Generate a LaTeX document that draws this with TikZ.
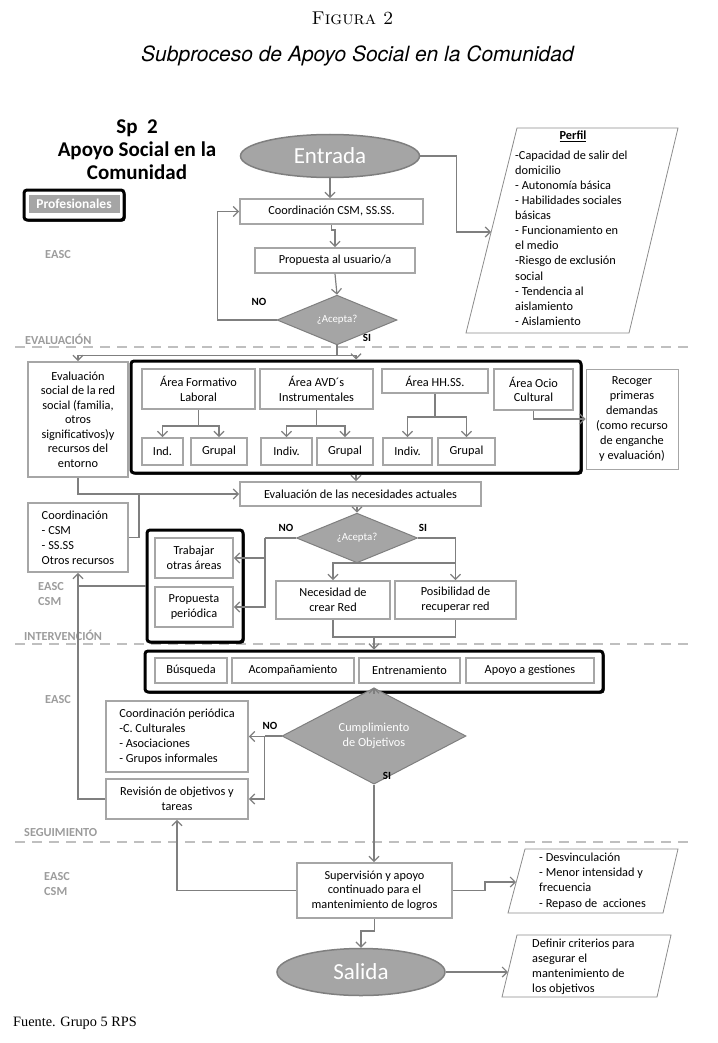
\documentclass[tikz,border=0pt]{standalone}
\usepackage{fontspec}
\newfontfamily\carl{Carlito}
\newfontfamily\heros{TeX Gyre Heros}
\newfontfamily\libser{Liberation Serif}
\usetikzlibrary{arrows.meta,shapes.geometric,shadows,calc}
\definecolor{bordergray}{HTML}{A6A6A6}
\definecolor{linegray}{HTML}{7F7F7F}
\definecolor{fillgray}{HTML}{A5A5A5}
\definecolor{dashgray}{HTML}{BFBFBF}
\definecolor{labelgray}{HTML}{9C9C9C}
\definecolor{paragray}{HTML}{8C8C8C}
\newcommand\boxfnt[1]{\carl\fontsize{12.3}{#1}\selectfont}
\begin{document}
\begin{tikzpicture}[x=1pt,y=-1pt,
  box/.style={draw=bordergray, line width=1.9pt, fill=white, align=center, inner sep=0pt, text=black, font=\boxfnt{14.6}},
  sz/.style 2 args={minimum width=#1pt, minimum height=#2pt},
  cont/.style={draw=black, line width=3pt, rounded corners=3pt, fill=white, inner sep=0pt,
     drop shadow={shadow xshift=1.5pt, shadow yshift=-1.5pt, opacity=1, fill=black}},
  ell/.style={ellipse, draw=linegray, line width=1.5pt, fill=fillgray, text=white, inner sep=0pt, font=\carl\fontsize{23}{26}\selectfont},
  dia/.style={diamond, draw=linegray, line width=1pt, fill=fillgray, text=white, inner sep=0pt, align=center, font=\carl\fontsize{10.8}{12.5}\selectfont},
  conn/.style={draw=linegray, line width=1.2pt, -{Straight Barb[length=5pt,width=10pt]}},
  wire/.style={draw=linegray, line width=1.2pt},
  lab/.style={font=\carl\bfseries\fontsize{12.3}{14.5}\selectfont, text=labelgray, anchor=west, inner sep=0pt, align=left},
  yn/.style={font=\carl\bfseries\fontsize{11}{12}\selectfont, inner sep=0pt},
  dashl/.style={draw=dashgray, line width=2pt, dash pattern=on 10pt off 7pt},
  para/.style={draw=paragray, line width=0.8pt, fill=white},
  ptext/.style={font=\boxfnt{15.1}, align=left, inner sep=0pt, anchor=north west}
]
\useasboundingbox (0,0) rectangle (717,1043);

% titles
\node[font=\fontsize{18.5}{20}\selectfont\scshape] (fig) at (352.5,18) {Figura 2};
\node[font=\heros\itshape\fontsize{21}{24}\selectfont] (sub) at (357.5,56) {Subproceso de Apoyo Social en la Comunidad};
\node[font=\carl\bfseries\fontsize{21}{23}\selectfont, align=center, inner sep=0pt] (sp) at (137,150) {Sp\ \ 2\\Apoyo Social en la\\Comunidad};
\node[font=\libser\fontsize{14.3}{16}\selectfont, anchor=west, inner sep=0pt] (fuente) at (13,1023) {Fuente. Grupo 5 RPS};

% Profesionales
\node[cont, sz={100}{30}] (profc) at (74,205) {};
\node[fill=fillgray, draw=white, line width=0.8pt, sz={92}{19}, inner sep=0pt, text=white, font=\carl\bfseries\fontsize{13.5}{15}\selectfont] (prof) at (74,204) {Profesionales};

% section dashed lines and labels
\draw[dashl] (15,347) -- (692,347);
\draw[dashl] (15,644) -- (692,644);
\draw[dashl] (15,842) -- (692,842);
\node[lab] (l1) at (45,255) {EASC};
\node[lab] (l2) at (25,339) {EVALUACIÓN};
\node[lab] (l3) at (38,594) {EASC\\CSM};
\node[lab] (l4) at (24,635) {INTERVENCIÓN};
\node[lab] (l5) at (45,700) {EASC};
\node[lab] (l6) at (24,833) {SEGUIMIENTO};
\node[lab] (l7) at (44,884) {EASC\\CSM};

% top part
\node[ell, minimum width=179pt, minimum height=43pt] (entrada) at (330,156) {Entrada};
\node[box, sz={183}{25}] (coord) at (331.5,211.5) {Coordinación CSM, SS.SS.};
\node[box, sz={160}{25}] (prop) at (335,260.5) {Propuesta al usuario/a};
\node[dia, minimum width=120pt, minimum height=30pt] (acc1) at (337,320) {¿Acepta?};
\node[yn] (no1) at (259,302) {NO};
\node[yn] (si1) at (367,338) {SI};

% perfil
\draw[para] (517,128) -- (678,128) -- (629,333) -- (466,333) -- cycle;
\coordinate (perfilin) at (491,232);
\node[font=\carl\bfseries\fontsize{12.3}{13}\selectfont, inner sep=0pt] (perfilt) at (573,136) {\underline{Perfil}};
\node[ptext] (perfilb) at (515,150.5) {-Capacidad de salir del\\domicilio\\- Autonomía básica\\- Habilidades sociales\\básicas\\- Funcionamiento en\\el medio\\-Riesgo de exclusión\\social\\- Tendencia al\\aislamiento\\- Aislamiento};

% evaluacion
\node[box, sz={100}{115}, font=\boxfnt{14.5}] (evsoc) at (78,419.5) {Evaluación\\social de la red\\social (familia,\\otros\\significativos)y\\recursos del\\entorno};
\node[cont, sz={450}{112}] (areas) at (356,417) {};
\node[box, sz={113}{40}] (aFL) at (198.5,389) {Área Formativo\\Laboral};
\node[box, sz={113}{40}] (aAVD) at (316.5,389) {Área AVD´s\\Instrumentales};
\node[box, sz={106}{24}] (aHH) at (435,381) {Área HH.SS.};
\node[box, sz={79}{41}] (aOC) at (533.5,389.5) {Área Ocio\\Cultural};
\node[box, sz={41}{27}] (s1) at (162.5,451.5) {Ind.};
\node[box, sz={56}{27}] (s2) at (219,451.5) {Grupal};
\node[box, sz={51}{27}] (s3) at (286.5,451.5) {Indiv.};
\node[box, sz={56}{27}] (s4) at (345,451.5) {Grupal};
\node[box, sz={49}{27}] (s5) at (407.5,451.5) {Indiv.};
\node[box, sz={57}{27}] (s6) at (466.5,451.5) {Grupal};
\node[box, sz={92}{100}, line width=1pt, font=\boxfnt{15}] (recoger) at (632,419) {Recoger\\primeras\\demandas\\(como recurso\\de enganche\\y evaluación)};
\node[box, sz={241}{24}] (evnec) at (360.5,494) {Evaluación de las necesidades actuales};
\node[box, sz={100}{69}, align=left, font=\boxfnt{15}] (coordcsm) at (78,537.5) {Coordinación\\- CSM\\- SS.SS\\Otros recursos};
\node[dia, minimum width=121pt, minimum height=29pt] (acc2) at (357,538) {¿Acepta?};
\node[yn] (no2) at (286,528) {NO};
\node[yn] (si2) at (423,528) {SI};
\node[cont, sz={96}{112}] (trabc) at (195,586) {};
\node[box, sz={78}{40}] (trab) at (194,558) {Trabajar\\otras áreas};
\node[box, sz={78}{40}] (propper) at (194,607) {Propuesta\\periódica};
\node[box, sz={114}{38}] (necred) at (333,600) {Necesidad de\\crear Red};
\node[box, sz={121}{38}] (posrec) at (455.5,600) {Posibilidad de\\recuperar red};

% intervencion
\node[cont, sz={458}{41}] (interv) at (374,671.5) {};
\node[box, sz={72}{25}] (busq) at (191,670.5) {Búsqueda};
\node[box, sz={122}{25}] (acomp) at (293,670.5) {Acompañamiento};
\node[box, sz={101}{25}] (entren) at (409.5,670.5) {Entrenamiento};
\node[box, sz={128}{25}] (apoyo) at (530,670.5) {Apoyo a gestiones};
\node[dia, minimum width=184pt, minimum height=56pt, font=\carl\fontsize{12.3}{15}\selectfont] (cumpl) at (374,736) {Cumplimiento\\de Objetivos};
\node[yn] (no3) at (270,726) {NO};
\node[yn] (si3) at (387,776) {SI};
\node[box, sz={142}{71}, align=left, font=\boxfnt{15}] (coordper) at (177,736.5) {Coordinación periódica\\-C. Culturales\\- Asociaciones\\- Grupos informales};
\node[box, sz={142}{40}] (revis) at (177,799) {Revisión de objetivos y\\tareas};

% seguimiento
\node[box, sz={155}{55}, font=\boxfnt{14.5}] (superv) at (374.5,890.5) {Supervisión y apoyo\\continuado para el\\mantenimiento de logros};
\draw[para] (525,849) -- (678,849) -- (663,913) -- (508,913) -- cycle;
\coordinate (p1in) at (516,882);
\node[ptext, font=\boxfnt{15.3}] (p1t) at (539,852.5) {- Desvinculación\\- Menor intensidad y\\frecuencia\\- Repaso de\ \ acciones};
\node[ell, minimum width=168pt, minimum height=47pt] (salida) at (361,972) {Salida};
\draw[para] (517,935) -- (671,935) -- (657,997) -- (502,997) -- cycle;
\coordinate (p2in) at (508,972);
\node[ptext, font=\boxfnt{15}] (p2t) at (532,939) {Definir criterios para\\asegurar el\\mantenimiento de\\los objetivos};

% connectors top
\draw[conn] (entrada.south) -- (entrada.south |- coord.north);
\draw[conn] (coord.south) -- ++(0,5) -| (prop.north);
\draw[conn] (prop.south) -- (acc1.north);
\draw[conn] (acc1.west) -- ++(-59,0) |- (coord.west);
\draw[conn] (entrada.east) -- ++(36,0) |- (perfilin);
\draw[wire] (acc1.south) -- ++(0,10) coordinate (sp1);
\draw[conn] (sp1) -| (evsoc.north);
\draw[conn] (sp1) -| (areas.north);
% areas
\draw[wire] (aFL.south) -- ++(0,16) coordinate (b1);
\draw[conn] (b1) -| (s1.north);
\draw[conn] (b1) -| (s2.north);
\draw[wire] (aAVD.south) -- ++(0,16) coordinate (b2);
\draw[conn] (b2) -| (s3.north);
\draw[conn] (b2) -| (s4.north);
\draw[wire] (aHH.south) -- ++(0,23) coordinate (b3);
\draw[conn] (b3) -| (s5.north);
\draw[conn] (b3) -| (s6.north);
\draw[conn] (aOC.south) |- (recoger.west);
% evaluacion
\draw[conn] (evsoc.south) |- (evnec.west);
\coordinate (m1) at (139,494);
\draw[wire] (coordcsm.east) -| (m1);
\draw[conn] (areas.south) -- (areas.south |- evnec.north);
\draw[conn] (acc2.north |- evnec.south) -- (acc2.north);
\draw[wire] (acc2.west) -- ++(-31,0) coordinate (n2);
\draw[conn] (n2) |- (trab.east);
\draw[conn] (n2) |- (propper.east);
\draw[conn] (acc2.east) -| (posrec.north);
\draw[conn] ($(acc2.east -| posrec.north)+(0,25)$) -| (necred.north);
\draw[wire] (necred.south) -- ++(0,17) coordinate (j3) -| (posrec.south);
\draw[conn] (j3 -| interv.north) -- (interv.north);
\draw[wire] (trabc.west) -- (trabc.west -| coordcsm.south);
\draw[conn] (revis.west) -| (coordcsm.south);
% intervencion
\draw[conn] (interv.south) -- (cumpl.north);
\draw[wire] (cumpl.west) -- ++(-17,0) coordinate (n3);
\draw[conn] (n3) |- (coordper.east);
\draw[conn] (n3) |- (revis.east);
\draw[conn] (cumpl.south) -- (cumpl.south |- superv.north);
% seguimiento
\draw[conn] (superv.west) -| (revis.south);
\draw[conn] (superv.east) -- ++(32,0) |- (p1in);
\draw[conn] (superv.south) -- ++(0,12) -| (salida.north);
\draw[conn] (salida.east) -- (p2in);
\end{tikzpicture}
\end{document}
